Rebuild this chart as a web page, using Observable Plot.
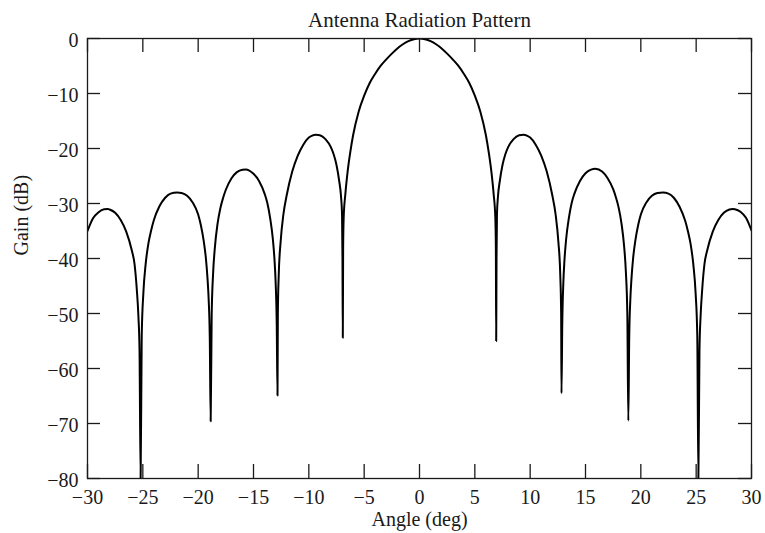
<!DOCTYPE html>
<html><head><meta charset="utf-8">
<script src="https://cdn.jsdelivr.net/npm/d3@7"></script>
<script src="https://cdn.jsdelivr.net/npm/@observablehq/plot@0.6"></script>
<style>
html,body{margin:0;padding:0;background:#fff;}
</style>
</head><body>
<div id="chart"></div>
<script>
const chartTitle = "Antenna Radiation Pattern";
const xLabel = "Angle (deg)";
const yLabel = "Gain (dB)";
const xTicks = [-30, -25, -20, -15, -10, -5, 0, 5, 10, 15, 20, 25, 30];
const yTicks = [0, -10, -20, -30, -40, -50, -60, -70, -80];

const angleDeg = [
  -30, -29.5, -29, -28.5, -28.15, -28, -27.5, -27, -26.5, -26, -25.75, -25.55, -25.4, -25.3, -25.2,
  -25.1, -24.95, -24.75, -24.5, -24.25, -24, -23.5, -23, -22.5, -21.9, -21.5, -21, -20.5, -20, -19.75,
  -19.5, -19.3, -19.15, -19.05, -18.95, -18.87, -18.78, -18.65, -18.5, -18.25, -18, -17.75, -17.5, -17,
  -16.5, -16, -15.7, -15, -14.5, -14, -13.75, -13.5, -13.25, -13.1, -13, -12.9, -12.83, -12.8, -12.72,
  -12.55, -12.3, -12, -11.5, -11, -10.5, -10, -9.75, -9.35, -9, -8.5, -8, -7.75, -7.5, -7.25, -7.1, -7,
  -6.96, -6.93, -6.9, -6.85, -6.7, -6.5, -6.25, -6, -5.5, -5, -4.5, -4, -3.5, -3, -2.5, -2, -1.5, -1, -0.5,
  0,
  0.5, 1, 1.5, 2, 2.5, 3, 3.5, 4, 4.5, 5, 5.5, 6, 6.25, 6.5, 6.7, 6.85, 6.9, 6.93, 6.96, 7, 7.1, 7.25,
  7.5, 7.75, 8, 8.5, 9, 9.4, 9.75, 10, 10.5, 11, 11.5, 12, 12.3, 12.55, 12.72, 12.8, 12.83, 12.9, 13,
  13.1, 13.25, 13.5, 13.75, 14, 14.5, 15, 15.5, 15.9, 16.5, 17, 17.5, 17.75, 18, 18.25, 18.5, 18.65,
  18.78, 18.87, 18.95, 19.05, 19.15, 19.3, 19.5, 19.75, 20, 20.5, 21, 21.5, 22, 22.5, 23, 23.5, 24,
  24.25, 24.5, 24.75, 24.95, 25.1, 25.2, 25.3, 25.4, 25.55, 25.75, 26, 26.5, 27, 27.5, 28, 28.3, 28.5,
  29, 29.5, 30
];
const gainDb = [
  -35.0, -32.7, -31.6, -31.05, -31.0, -31.1, -31.7, -33.0, -35.1, -38.5, -41.0, -45.5, -50.5, -56.5, -80,
  -54, -46.2, -41.1, -37.3, -34.9, -33.0, -30.5, -29.0, -28.2, -28.0, -28.1, -28.6, -29.8, -32.0, -34.0,
  -36.8, -40.0, -43.8, -47.5, -54.5, -69.6, -50.4, -42.7, -38.2, -33.7, -30.9, -29.0, -27.5, -25.45,
  -24.3, -23.85, -23.8, -24.6, -25.9, -28.2, -29.9, -32.6, -36.5, -40.3, -44.3, -52, -64.9, -50, -43,
  -37, -32, -28.5, -24.2, -21.3, -19.3, -18.0, -17.7, -17.5, -17.6, -18.3, -19.8, -21.1, -23.0, -26.0, -28.5, -32.0,
  -40, -54.4, -38, -32.5, -28.3, -24.3, -20.6, -17.6, -13.3, -10.4, -8.1, -6.4, -4.95, -3.8, -2.75, -1.8, -1.05, -0.47, -0.12,
  0,
  -0.12, -0.47, -1.05, -1.8, -2.75, -3.8, -4.95, -6.4, -8.1, -10.4, -13.3, -17.6, -20.6, -24.3, -28.3, -32.5, -38, -55.0, -40, -32.0, -28.5, -26.0,
  -23.0, -21.1, -19.8, -18.3, -17.6, -17.5, -17.7, -18.0, -19.3, -21.3, -24.2, -28.5, -32, -37, -43, -50, -64.5, -52, -44.3,
  -40.3, -36.5, -32.6, -29.9, -28.2, -25.9, -24.5, -23.85, -23.7, -24.2, -25.4, -27.4, -28.9, -30.8, -33.6, -38.0, -42.5,
  -50.2, -69.5, -54.5, -47.5, -43.8, -40.0, -36.8, -34.0, -32.0, -29.8, -28.6, -28.1, -28.0, -28.2, -29.0, -30.6, -33.1,
  -35.0, -37.4, -41.2, -46.3, -54, -80, -56.5, -50.5, -45.5, -41.0, -38.5, -35.1, -33.0, -31.7, -31.1, -31.0, -31.05,
  -31.5, -32.6, -34.9
];

const W = 765, H = 533, mL = 87, mR = 14, mT = 38, mB = 55;
const fw = W - mL - mR, fh = H - mT - mB;
const tickLenX = 14, tickLenY = 13;
const pattern = angleDeg.map((a, i) => ({angle: a, gain: gainDb[i]}));
const fmt = d => d < 0 ? "\u2212" + Math.abs(d) : String(d);
const ink = "#1a1a1a";

const plot = Plot.plot({
  width: W, height: H,
  marginLeft: mL, marginRight: mR, marginTop: mT, marginBottom: mB,
  x: {domain: [-30, 30]},
  y: {domain: [-80, 0]},
  style: {fontFamily: "'Liberation Serif', 'Times New Roman', serif", fontSize: "20px", color: ink, background: "#fff"},
  marks: [
    Plot.line(pattern, {x: "angle", y: "gain", stroke: "#000", strokeWidth: 2, curve: "monotone-x", clip: true}),
    Plot.frame({stroke: ink, strokeWidth: 1.3}),
    Plot.tickX(xTicks, {x: d => d, stroke: ink, strokeWidth: 1.3, insetTop: fh - tickLenX}),
    Plot.tickX(xTicks, {x: d => d, stroke: ink, strokeWidth: 1.3, insetBottom: fh - tickLenX}),
    Plot.tickY(yTicks, {y: d => d, stroke: ink, strokeWidth: 1.3, insetRight: fw - tickLenY}),
    Plot.tickY(yTicks, {y: d => d, stroke: ink, strokeWidth: 1.3, insetLeft: fw - tickLenY}),
    Plot.axisX(xTicks, {anchor: "bottom", tickSize: 0, tickPadding: 11, tickFormat: fmt, label: null, fontSize: 20}),
    Plot.axisY(yTicks, {anchor: "left", tickSize: 0, tickPadding: 9, dy: 2, tickFormat: fmt, label: null, fontSize: 20}),
    Plot.text([xLabel], {text: d => d, frameAnchor: "bottom", lineAnchor: "middle", dy: 41.5, fontSize: 20}),
    Plot.text([yLabel], {text: d => d, frameAnchor: "left", lineAnchor: "middle", rotate: -90, dx: -66, dy: -3, fontSize: 20}),
    Plot.text([chartTitle], {text: d => d, frameAnchor: "top", lineAnchor: "middle", dy: -18, fontSize: 21})
  ]
});
document.getElementById("chart").appendChild(plot);
</script>
</body></html>
